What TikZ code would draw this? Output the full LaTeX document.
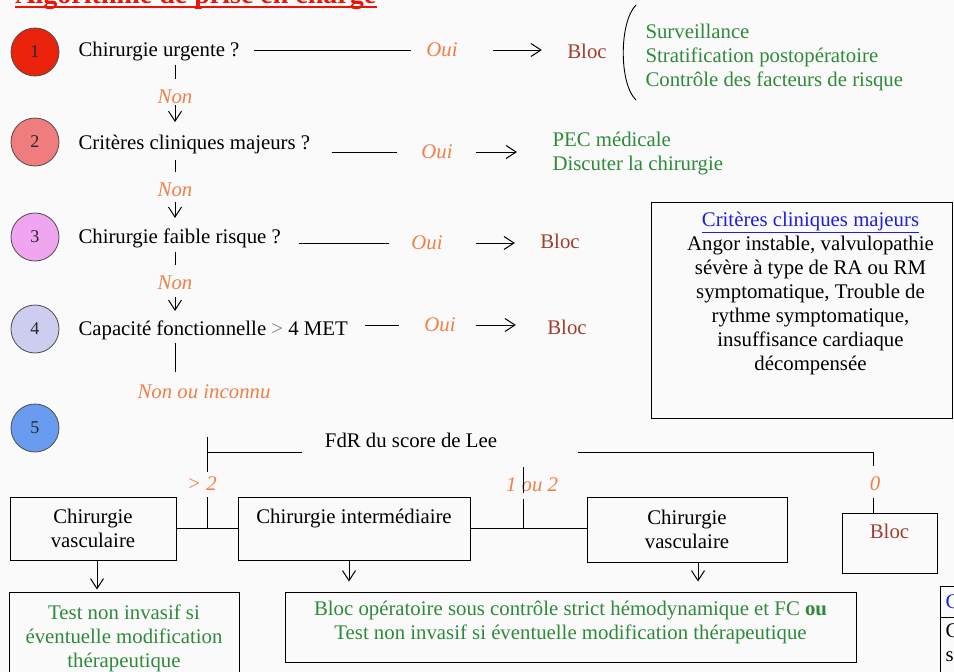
\documentclass[tikz,border=0pt]{standalone}
\usepackage{fontspec}
\setmainfont{Liberation Serif}
\usetikzlibrary{arrows.meta}
\definecolor{titlered}{RGB}{232,22,10}
\definecolor{answer}{RGB}{240,128,72}
\definecolor{blocbrown}{RGB}{160,62,48}
\definecolor{advice}{RGB}{46,138,58}
\definecolor{headblue}{RGB}{30,30,225}
\definecolor{stepone}{RGB}{235,35,12}
\definecolor{steptwo}{RGB}{240,125,125}
\definecolor{stepthree}{RGB}{240,165,240}
\definecolor{stepfour}{RGB}{205,205,240}
\definecolor{stepfive}{RGB}{105,155,240}
\tikzset{
  every node/.style={font=\fontsize{20.8}{24}\selectfont, inner sep=0pt},
  stepnum/.style={circle, draw=black!70, line width=0.8pt, minimum size=48pt,
    text=black!85, font=\fontsize{18}{20}\selectfont},
  question/.style={anchor=west},
  reply/.style={text=answer, font=\fontsize{20.8}{24}\selectfont\itshape},
  bloc/.style={text=blocbrown},
  care/.style={text=advice, align=left, anchor=west},
  box/.style={draw, line width=1pt, align=center},
  arr/.style={-{Straight Barb[length=10pt,width=13pt]}}
}
\begin{document}
\begin{tikzpicture}[x=1pt,y=-1pt,line width=1pt]
\useasboundingbox (0,0) rectangle (954,672);
\fill[white!98!black] (0,0) rectangle (954,672);
\clip (0,0) rectangle (954,672);
% Title
\node[anchor=base west, text=titlered, font=\fontsize{28}{32}\selectfont\bfseries] (title) at (15,3) {Algorithme de prise en charge};
\draw[titlered, line width=2pt] ([yshift=-3.5pt]title.base west) -- ([yshift=-3.5pt]title.base east);
% Steps
\node[stepnum, fill=stepone] (c1) at (35,52) {1};
\node[stepnum, fill=steptwo] (c2) at (35,142) {2};
\node[stepnum, fill=stepthree] (c3) at (35,237) {3};
\node[stepnum, fill=stepfour] (c4) at (35,329) {4};
\node[stepnum, fill=stepfive] (c5) at (35,428) {5};
% Questions
\node[question] (q1) at (78,52) {Chirurgie urgente ?};
\node[question] (q2) at (78,144) {Critères cliniques majeurs ?};
\node[question] (q3) at (78,238) {Chirurgie faible risque ?};
\node[question] (q4) at (78,330) {Capacité fonctionnelle \textcolor{black!50}{>} 4 MET};
% Oui branches
\node[reply] (o1) at (442,50) {Oui};
\node[reply] (o2) at (437,152) {Oui};
\node[reply] (o3) at (427,243) {Oui};
\node[reply] (o4) at (440,325) {Oui};
\node[bloc] (b1) at (587,51) {Bloc};
\node[bloc] (b3) at (560,241) {Bloc};
\node[bloc] (b4) at (567,327) {Bloc};
\node[care] (care1) at (645,57) {Surveillance\\Stratification postopératoire\\Contrôle des facteurs de risque};
\node[care] (pec) at (552,154) {PEC médicale\\Discuter la chirurgie};
\draw[line width=0.9pt] (636,5) .. controls (619,22) and (619,84) .. (636,100);
\draw[shorten <=14pt, shorten >=15pt] (q1.east |- o1.west) -- (o1.west);
\draw[shorten <=21pt, shorten >=24pt] (q2.east |- o2.west) -- (o2.west);
\draw[shorten <=18pt, shorten >=22pt] (q3.east |- o3.west) -- (o3.west);
\draw[shorten <=17pt, shorten >=25pt] (q4.east |- o4.west) -- (o4.west);
\draw[arr, shorten <=35pt, shorten >=25pt] (o1.east) -- (o1.east -| b1.west);
\draw[arr, shorten <=23pt, shorten >=35pt] (o2.east) -- (o2.east -| pec.west);
\draw[arr, shorten <=33pt, shorten >=25pt] (o3.east) -- (o3.east -| b3.west);
\draw[arr, shorten <=20pt, shorten >=31pt] (o4.east) -- (o4.east -| b4.west);
% Non branches
\coordinate (stem) at (175,0);
\node[reply] (n1) at (175,97) {Non};
\node[reply] (n2) at (175,190) {Non};
\node[reply] (n3) at (175,283) {Non};
\node[reply] (n4) at (204,392) {Non ou inconnu};
\draw[shorten <=3pt, shorten >=11pt] (q1.south -| stem) -- (n1.north);
\draw[arr, shorten <=1pt, shorten >=12pt] (n1.south) -- (q2.north -| stem);
\draw[shorten <=6pt, shorten >=11pt] (q2.south -| stem) -- (n2.north);
\draw[arr, shorten <=5pt, shorten >=10pt] (n2.south) -- (q3.north -| stem);
\draw[shorten <=4pt, shorten >=11pt] (q3.south -| stem) -- (n3.north);
\draw[arr, shorten <=7pt, shorten >=9pt] (n3.south) -- (q4.north -| stem);
\draw[shorten <=3pt, shorten >=12pt] (q4.south -| stem) -- (n4.north -| stem);
% Criteres box
\node[draw, minimum width=301pt, minimum height=216pt] (crit) at (801.5,310) {};
\node[anchor=north, align=center] (crittxt) at ([xshift=9pt, yshift=-10pt]crit.north) {\textcolor{headblue}{\underline{Critères cliniques majeurs}}\\Angor instable, valvulopathie\\sévère à type de RA ou RM\\symptomatique, Trouble de\\rythme symptomatique,\\insuffisance cardiaque\\décompensée};
% Score de Lee
\node (lee) at (411,440) {FdR du score de Lee};
\coordinate (lee top) at (207,437);
\coordinate (lee west) at (207,452);
\coordinate (lee east) at (873,452);
\coordinate (mid top) at (523,467);
\coordinate (left join) at (207,528);
\coordinate (mid join) at (523,528);
\node[reply] (gt2) at (202,484) {> 2};
\node[reply] (l12) at (532,485) {1 ou 2};
\node[reply] (z0) at (875,484) {0};
\node[box, minimum width=166pt, minimum height=63pt] (vasc1) at (93,528.5) {Chirurgie\\vasculaire};
\node[box, minimum width=232pt, minimum height=63pt] (inter) at (354,528.5) {Chirurgie intermédiaire\\\mbox{}};
\node[box, minimum width=200pt, minimum height=65pt] (vasc2) at (687,529.5) {Chirurgie\\vasculaire};
\node[box, minimum width=95pt, minimum height=60pt, text=blocbrown] (bloc5) at (889.5,543) {Bloc\\\mbox{}};
\draw[shorten <=22pt] (lee.west |- lee west) -- (lee west);
\draw[shorten >=5pt] (lee top) -- (gt2.north -| lee west);
\draw[shorten <=6pt] (gt2.south -| lee west) -- (left join);
\draw[shorten <=80pt, shorten >=10pt] (lee.east |- lee east) -- (lee east) -- (z0.north -| lee east);
\draw[shorten <=6pt] (z0.south -| lee east) -- (bloc5.north -| lee east);
\draw (mid top) -- (l12.south -| mid top);
\draw[shorten <=6pt] (l12.south -| mid top) -- (mid join);
\draw (vasc1.east |- left join) -- (inter.west |- left join);
\draw (inter.east |- mid join) -- (vasc2.west |- mid join);
% Conduite
\node[box, minimum width=230pt, minimum height=92pt, text=advice] (test1) at (124,638) {Test non invasif si\\éventuelle modification\\thérapeutique};
\node[box, minimum width=571pt, minimum height=70pt] (test2) at (570.5,627) {};
\node[text=advice, align=center] (test2txt) at (570.5,622) {Bloc opératoire sous contrôle strict hémodynamique et FC \textbf{ou}\\Test non invasif si éventuelle modification thérapeutique};
\draw[arr, shorten >=2pt] ([xshift=4pt]vasc1.south) -- ([xshift=4pt]vasc1.south |- test1.north);
\draw[arr, shorten >=10pt] ([xshift=-5pt]inter.south) -- ([xshift=-5pt]inter.south |- test2.north);
\draw[arr, shorten >=10pt] ([xshift=11pt]vasc2.south) -- ([xshift=11pt]vasc2.south |- test2.north);
% Table cut at the border
\draw (954,586) -- (940,586) -- (940,672);
\draw (940,617) -- (954,617);
\node[anchor=west, text=headblue] (cut1) at (945,602) {C};
\node[anchor=west] (cut2) at (945,631) {C};
\node[anchor=west] (cut3) at (945,657) {s};
\end{tikzpicture}
\end{document}
